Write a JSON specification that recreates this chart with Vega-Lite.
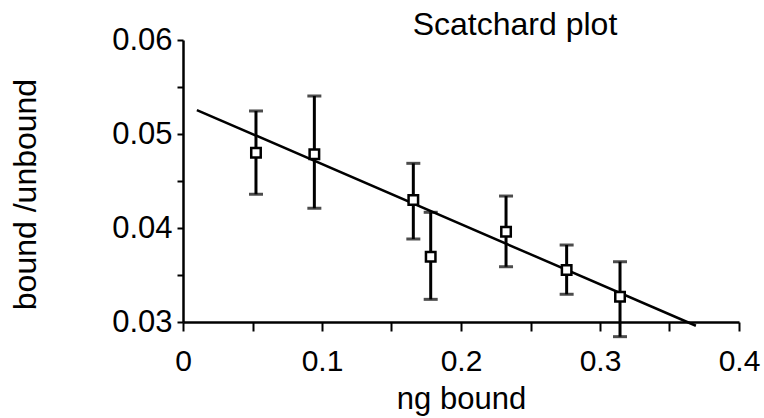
{
  "$schema": "https://vega.github.io/schema/vega-lite/v6.json",
  "width": 556,
  "height": 282,
  "autosize": "none",
  "padding": {"left": 183, "top": 40, "right": 25, "bottom": 96},
  "background": "white",
  "config": {"view": {"stroke": null}, "font": "Liberation Sans"},
  "title": {"text": "Scatchard plot", "fontSize": 32, "font": "Liberation Sans", "fontWeight": "normal", "anchor": "middle", "frame": "group", "dx": 54, "dy": 43, "offset": 0, "baseline": "alphabetic", "color": "black"},
  "datasets": {
    "pts": [
      {"x": 0.0525, "y": 0.0480, "lo": 0.04359, "hi": 0.05245},
      {"x": 0.0945, "y": 0.04784, "lo": 0.0421, "hi": 0.05404},
      {"x": 0.1657, "y": 0.04298, "lo": 0.03883, "hi": 0.04688},
      {"x": 0.1782, "y": 0.03695, "lo": 0.03241, "hi": 0.04167},
      {"x": 0.2324, "y": 0.03961, "lo": 0.03588, "hi": 0.0434},
      {"x": 0.276, "y": 0.03553, "lo": 0.03295, "hi": 0.03819},
      {"x": 0.3144, "y": 0.03269, "lo": 0.02844, "hi": 0.03641}
    ],
    "fit": [
      {"x": 0.01, "y": 0.05255},
      {"x": 0.369, "y": 0.0296}
    ]
  },
  "encoding": {
    "x": {
      "field": "x", "type": "quantitative",
      "scale": {"domain": [0, 0.4], "nice": false, "zero": false},
      "axis": {
        "title": "ng bound",
        "values": [0, 0.05, 0.1, 0.15, 0.2, 0.25, 0.3, 0.35, 0.4],
        "labelExpr": "round(datum.value*20) % 2 == 0 ? (datum.value == 0 ? '0' : format(datum.value, '.1f')) : ''",
        "labelFlush": false, "labelOverlap": false, "labelBound": false,
        "grid": false,
        "domainColor": "black", "domainWidth": 2.5,
        "tickColor": "black", "tickWidth": 2, "tickSize": 9,
        "labelFontSize": 30, "labelColor": "black", "labelPadding": 15, "labelFont": "Liberation Sans",
        "titleFontSize": 31, "titleFontWeight": "normal", "titleColor": "black", "titleFont": "Liberation Sans",
        "titleY": 86, "titleBaseline": "alphabetic"
      }
    }
  },
  "layer": [
    {
      "data": {"name": "fit"},
      "mark": {"type": "line", "color": "black", "strokeWidth": 2.5, "clip": false},
      "encoding": {
        "y": {
          "field": "y", "type": "quantitative",
          "scale": {"domain": [0.03, 0.06], "nice": false, "zero": false},
          "axis": {
            "title": "bound /unbound",
            "values": [0.03, 0.035, 0.04, 0.045, 0.05, 0.055, 0.06],
            "labelExpr": "round(datum.value*200) % 2 == 0 ? format(datum.value, '.2f') : ''",
            "labelFlush": false, "labelOverlap": false, "labelBound": false,
            "grid": false,
            "domainColor": "black", "domainWidth": 2.5,
            "tickColor": "black", "tickWidth": 2, "tickSize": 6,
            "labelFontSize": 31, "labelColor": "black", "labelPadding": 5, "labelFont": "Liberation Sans",
            "titleFontSize": 32, "titleFontWeight": "normal", "titleColor": "black", "titleFont": "Liberation Sans",
            "titleAngle": -90, "titleX": -158, "titleY": 154, "titleAlign": "center", "titleBaseline": "middle"
          }
        }
      }
    },
    {
      "data": {"name": "pts"},
      "mark": {"type": "rule", "color": "black", "strokeWidth": 3, "clip": false},
      "encoding": {
        "y": {"field": "lo", "type": "quantitative", "title": "bound /unbound"},
        "y2": {"field": "hi"}
      }
    },
    {
      "data": {"name": "pts"},
      "mark": {"type": "tick", "orient": "horizontal", "color": "black", "size": 14, "thickness": 3, "clip": false},
      "encoding": {
        "y": {"field": "lo", "type": "quantitative", "title": "bound /unbound"}
      }
    },
    {
      "data": {"name": "pts"},
      "mark": {"type": "tick", "orient": "horizontal", "color": "black", "size": 14, "thickness": 3, "clip": false},
      "encoding": {
        "y": {"field": "hi", "type": "quantitative", "title": "bound /unbound"}
      }
    },
    {
      "data": {"name": "pts"},
      "mark": {"type": "point", "shape": "square", "filled": true, "fill": "white", "stroke": "black", "strokeWidth": 2.5, "size": 90, "opacity": 1},
      "encoding": {
        "y": {"field": "y", "type": "quantitative", "title": "bound /unbound"}
      }
    }
  ]
}
